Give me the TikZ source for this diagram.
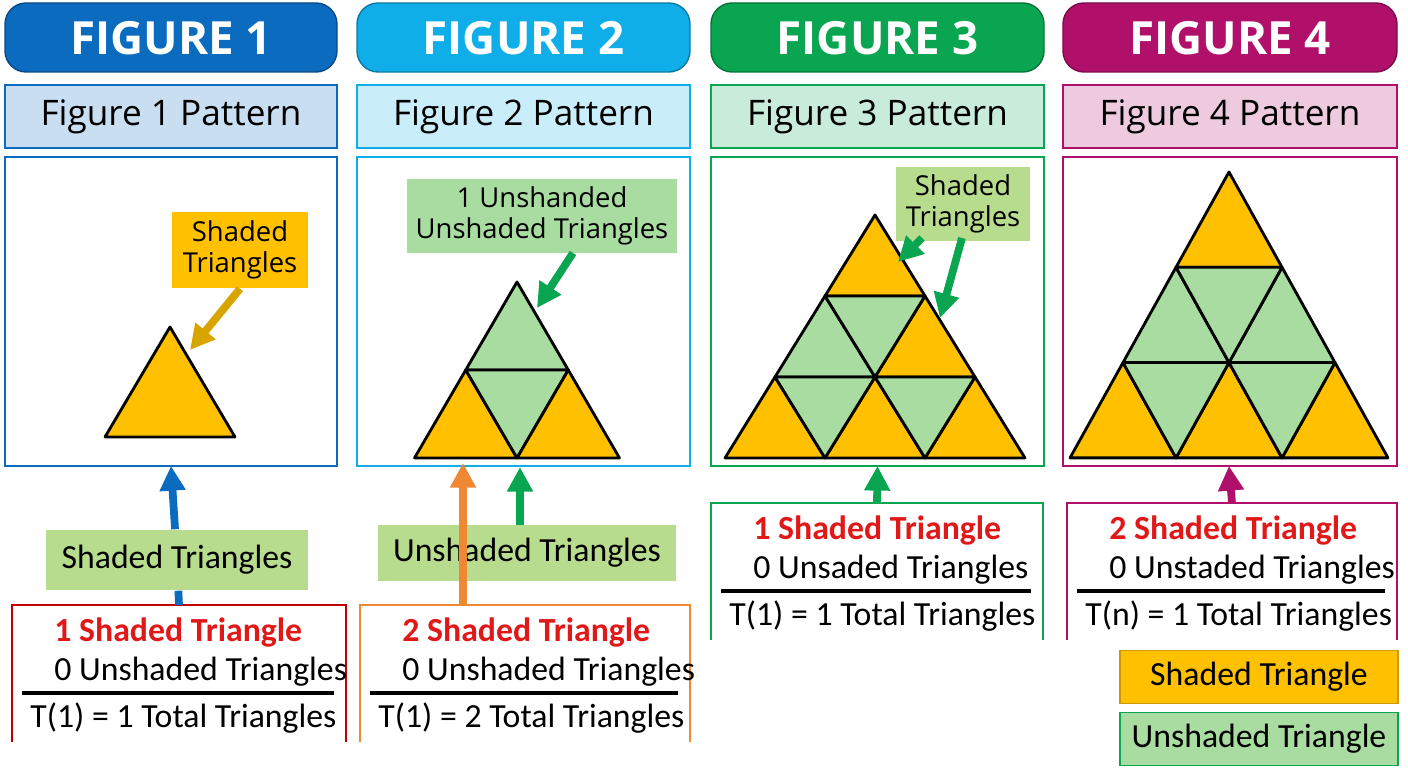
\documentclass[tikz,border=0pt]{standalone}
\usepackage{fontspec}
\usetikzlibrary{arrows.meta}
\setmainfont{Carlito}
\newfontfamily\headfont{Open Sans}
\definecolor{cA}{HTML}{0A6BBF}
\definecolor{cB}{HTML}{10AEE8}
\definecolor{cC}{HTML}{0AA550}
\definecolor{cD}{HTML}{B0106A}
\definecolor{shade}{HTML}{FFC000}
\definecolor{unshade}{HTML}{A8DCA0}
\definecolor{tag}{HTML}{B8DC8E}
\definecolor{arrOr}{HTML}{EE8833}
\definecolor{redtxt}{HTML}{E01818}
% cell of a triangular grid: apex ax,ay, cell width w, height h, row r, index k
\newcommand\upcell[7]{\draw[tri,fill=#7] ({#1+(#6-#5/2)*#3},{#2+#5*#4}) -- ++({-#3/2},#4) -- ++(#3,0) -- cycle;}
\newcommand\dncell[7]{\draw[tri,fill=#7] ({#1+(#6-#5/2)*#3},{#2+#5*#4}) -- ++(#3,0) -- ++({-#3/2},#4) -- cycle;}
\tikzset{
  tri/.style={thick,line join=round},
  head/.style={rounded corners=6pt,fill=#1,draw=#1!70!black},
  patt/.style={draw=#1,thick,fill=#1!22},
  panel/.style={draw=#1,thick},
  tag/.style={fill=#1,align=center,inner sep=2pt,font=\headfont\fontsize{7.8}{9}\selectfont},
  lbl/.style={font=\fontsize{9.6}{9.6}\selectfont},
  up/.style={-{Triangle[length=7pt,width=7pt]},line width=2.2pt},
}
\begin{document}
\begin{tikzpicture}[x=0.01cm,y=-0.01cm]
  \useasboundingbox (0,0) rectangle (1408,768);

  % headers, pattern bars, panels
  \foreach \n/\c/\xa/\xb in {1/cA/5/337,2/cB/357/690,3/cC/711/1044,4/cD/1063/1397}{
    \draw[head=\c] (\xa,3) rectangle (\xb,72);
    \node[text=white,font=\headfont\bfseries\fontsize{13}{13}\selectfont] (h\n) at ({(\xa+\xb)/2},38) {FIGURE \n};
    \draw[patt=\c] (\xa,85) rectangle (\xb,148);
    \node[font=\headfont\fontsize{10}{10}\selectfont] (p\n) at ({(\xa+\xb)/2},117) {Figure \n{} Pattern};
    \draw[panel=\c] (\xa,157) rectangle (\xb,466);
    \coordinate (pb\n) at ({(\xa+\xb)/2},466);
  }

  % figure 1
  \upcell{170}{327}{130}{110}{0}{0}{shade}
  \node[tag=shade,minimum width=1.35cm,minimum height=0.76cm] (l1) at (240,250) {Shaded\\Triangles};
  \draw[up,shade!85!black] (l1.south) -- (190,350);

  % figure 2
  \upcell{517}{282}{102.5}{88}{0}{0}{unshade}
  \upcell{517}{282}{102.5}{88}{1}{0}{shade}
  \dncell{517}{282}{102.5}{88}{1}{0}{unshade}
  \upcell{517}{282}{102.5}{88}{1}{1}{shade}
  \node[tag=unshade,minimum width=2.69cm,minimum height=0.72cm] (l2) at (542,216) {1 Unshanded\\Unshaded Triangles};
  \draw[up,cC] (573,253) -- (537,308);

  % figure 3
  \foreach \r/\k/\c in {0/0/shade,1/0/unshade,1/1/shade,2/0/shade,2/1/shade,2/2/shade}
    {\upcell{875}{215}{100}{81}{\r}{\k}{\c}}
  \foreach \r/\k in {1/0,2/0,2/1}
    {\dncell{875}{215}{100}{81}{\r}{\k}{unshade}}
  \node[tag=tag,minimum width=1.33cm,minimum height=0.66cm] (l3) at (963,204) {Shaded\\Triangles};
  \draw[up,cC] (922,238) -- (898,262);
  \draw[up,cC] (962,238) -- (940,318);

  % figure 4
  \foreach \r/\k/\c in {0/0/shade,1/0/unshade,1/1/unshade,2/0/shade,2/1/shade,2/2/shade}
    {\upcell{1229}{172}{106}{95.3}{\r}{\k}{\c}}
  \foreach \r/\k in {1/0,2/0,2/1}
    {\dncell{1229}{172}{106}{95.3}{\r}{\k}{unshade}}

  % bottom boxes (open at the bottom)
  \foreach \n/\c/\xa/\xb/\yt in {1/red!75!black/12/346/605,2/arrOr/360/690/605,3/cC/711/1043/503,4/cD/1067/1397/503}{
    \draw[\c,thick] (\xa,742-605+\yt) -- (\xa,\yt) -- (\xb,\yt) -- (\xb,742-605+\yt);
    \coordinate (bt\n) at ({(\xa+\xb)/2},\yt);
  }
  \tikzset{txt/.style={anchor=west,lbl}}
  \foreach \n/\xa/\xb/\yt/\s/\u/\t in {1/12/346/605/1/0 Unshaded Triangles/T(1) = 1 Total Triangles,
      2/360/690/605/2/0 Unshaded Triangles/T(1) = 2 Total Triangles,
      3/711/1043/503/1/0 Unsaded Triangles/T(1) = 1 Total Triangles,
      4/1067/1397/503/2/0 Unstaded Triangles/T(n) = 1 Total Triangles}{
    \node[txt,text=redtxt,font=\bfseries\fontsize{9.6}{9.6}\selectfont] (s\n) at (\xa+30,\yt+28) {\s{} Shaded Triangle};
    \node[txt] (u\n) at (\xa+30,\yt+67) {\u};
    \draw[line width=1.2pt] (\xa+10,\yt+88) -- (\xb-12,\yt+88);
    \node[txt] (t\n) at (\xa+6,\yt+113) {\t};
  }

  % connectors
  \node[fill=tag,lbl,minimum width=2.62cm,minimum height=0.6cm] (b1) at (177,560) {Shaded Triangles};
  \draw[line width=2.2pt,cA] (bt1) -- (b1);
  \draw[up,cA] (b1) -- (pb1);
  \node[fill=tag,lbl,minimum width=2.97cm,minimum height=0.55cm] (b2) at (527,553) {Unshaded Triangles};
  \coordinate (o2) at (463,605);
  \draw[up,arrOr] (o2) -- (463,463);
  \draw[up,cC] (520,525) -- (520,467);
  \draw[up,cC] (bt3) -- (pb3);
  \draw[up,cD] (bt4) -- (1229,466);

  % legend
  \node[fill=shade,draw=shade!80!black,lbl,minimum width=2.78cm,minimum height=0.48cm] (k1) at (1259,677) {Shaded Triangle};
  \node[fill=unshade,draw=cC,lbl,minimum width=2.78cm,minimum height=0.52cm] (k2) at (1259,739) {Unshaded Triangle};
\end{tikzpicture}
\end{document}
